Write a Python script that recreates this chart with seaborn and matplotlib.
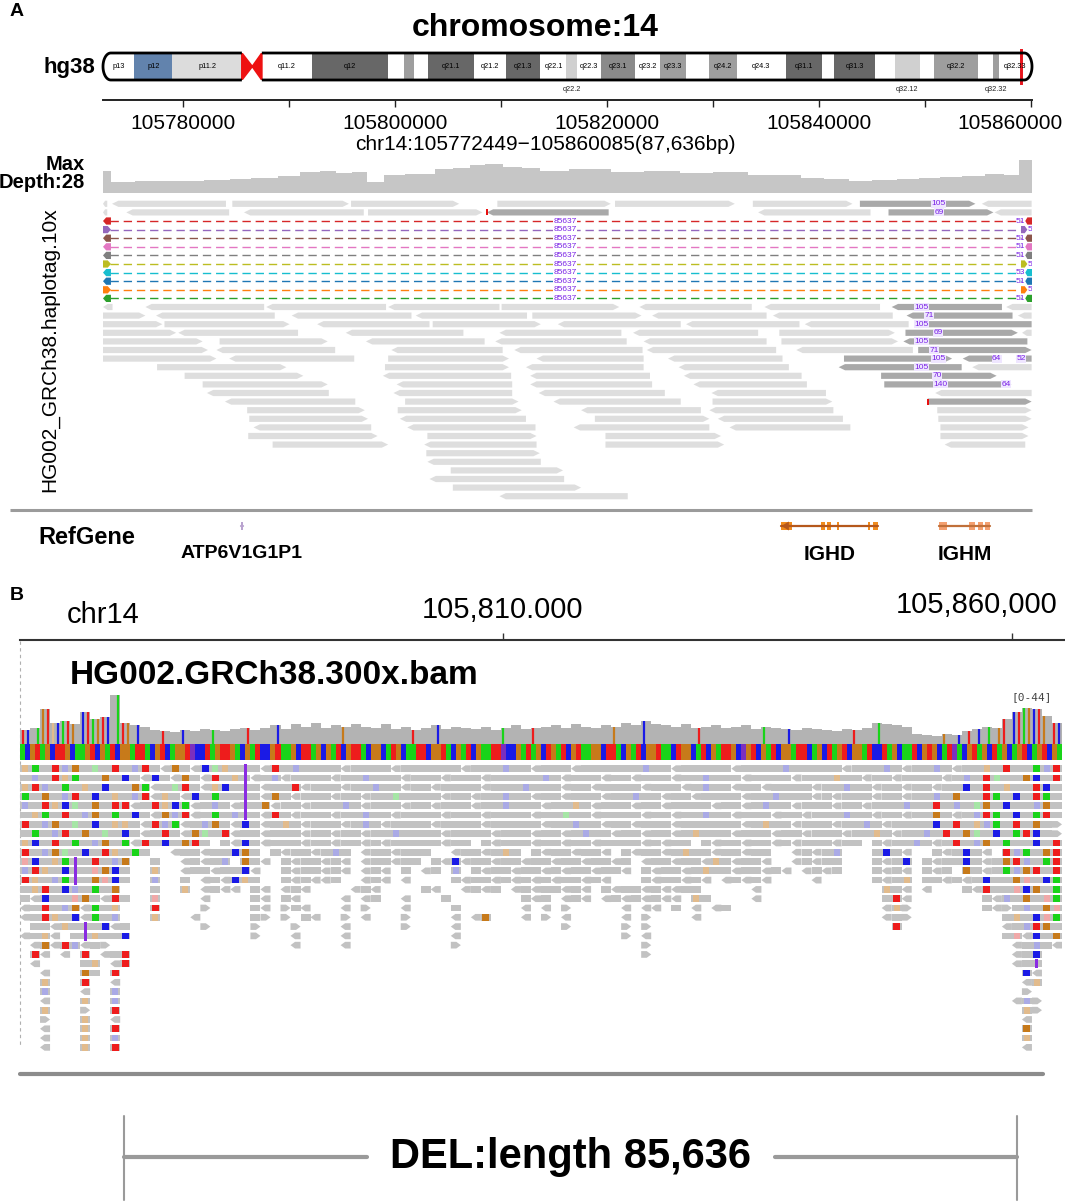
import numpy as np
import matplotlib
matplotlib.use("Agg")
import matplotlib.pyplot as plt
import seaborn as sns
from matplotlib import font_manager
from matplotlib.patches import Polygon, Rectangle
from matplotlib.collections import PatchCollection
from matplotlib.colors import ListedColormap

sns.set_theme(style="white")


def pick_font(names):
    for name in names:
        try:
            font_manager.findfont(name, fallback_to_default=False)
            return name
        except ValueError:
            continue
    return "DejaVu Sans"


BASE_FONT = pick_font(["Liberation Sans", "Arial"])
NARROW_FONT = pick_font(["Liberation Sans Narrow", BASE_FONT])
plt.rcParams["font.family"] = [BASE_FONT, "DejaVu Sans"]
plt.rcParams["text.color"] = "black"

# ---------------- data: panel A ----------------
region_start = 105772449
region_end = 105860085
chr_len_mb = 107.04

band_names = ["p13", "p12", "p11.2", "p11.1", "q11.1", "q11.2", "q12", "q13.1", "q13.2", "q13.3",
              "q21.1", "q21.2", "q21.3", "q22.1", "q22.2", "q22.3", "q23.1", "q23.2", "q23.3",
              "q24.1", "q24.2", "q24.3", "q31.1", "q31.2", "q31.3", "q32.11", "q32.12", "q32.13",
              "q32.2", "q32.31", "q32.32", "q32.33"]
band_starts = [0.0, 3.6, 8.0, 16.0, 17.2, 18.3, 24.1, 32.8, 34.7, 35.8, 37.4, 42.7, 46.4, 50.4,
               53.4, 54.6, 57.4, 61.3, 64.2, 67.2, 69.8, 73.0, 78.7, 82.8, 84.2, 89.0, 91.2, 94.1,
               95.7, 100.8, 102.5, 103.2]
band_ends = band_starts[1:] + [chr_len_mb]
band_stains = ["gneg", "stalk", "gvar", "acen", "acen", "gneg", "gpos100", "gneg", "gpos50", "gneg",
               "gpos100", "gneg", "gpos100", "gneg", "gpos25", "gneg", "gpos75", "gneg", "gpos50",
               "gneg", "gpos50", "gneg", "gpos100", "gneg", "gpos100", "gneg", "gpos25", "gneg",
               "gpos50", "gneg", "gpos50", "gneg"]
inner_labels = ["p13", "p12", "p11.2", "q11.2", "q12", "q21.1", "q21.2", "q21.3", "q22.1", "q22.3",
                "q23.1", "q23.2", "q23.3", "q24.2", "q24.3", "q31.1", "q31.3", "q32.2", "q32.33"]
below_labels = ["q22.2", "q32.12", "q32.32"]

ruler_a_ticks = [105780000, 105790000, 105800000, 105810000, 105820000,
                 105830000, 105840000, 105850000, 105860000]
ruler_a_labels = [105780000, 105800000, 105820000, 105840000, 105860000]

# coverage (kb from region start, depth)
a_cov_kb = [0, 0.8, 3, 6, 9.5, 12, 14, 16.5, 18.6, 20.5, 22, 23.5, 24.9, 26.5, 28.5, 31.3, 33,
            34.6, 36, 37.7, 39.5, 41.2, 44, 47.9, 51, 54.4, 57.5, 60.8, 63, 65.8, 68, 70.4, 72.5,
            74.9, 77, 79, 81, 83.2, 85, 86.4]
a_cov_depth = [19, 9, 10, 10.5, 11, 12, 13, 14.5, 18, 18.5, 17, 17.5, 9, 15, 16.5, 20, 21, 24, 25,
               22, 21, 19, 20, 18, 18.5, 17, 17.5, 15, 15.5, 13, 12, 10, 11, 12, 13, 14, 14.5, 16,
               15.5, 28]
a_max_depth = 28

# reads: (row, start kb, end kb, strand, shade L=light D=split/dark)
a_reads = [
    (0, 0.0, 0.4, "-", "L"), (0, 0.85, 11.6, "-", "L"), (0, 12.2, 23.2, "+", "L"),
    (0, 23.4, 33.6, "+", "L"), (0, 37.2, 47.9, "+", "L"), (0, 48.3, 59.6, "+", "L"),
    (0, 61.3, 70.7, "+", "L"), (0, 71.4, 82.3, "+", "D"), (0, 82.9, 87.6, "-", "L"),
    (1, 0.0, 0.4, "-", "L"), (1, 2.2, 11.9, "-", "L"), (1, 13.3, 24.6, "-", "L"),
    (1, 25.0, 35.8, "+", "L"), (1, 36.2, 47.7, "-", "D"), (1, 61.8, 72.4, "-", "L"),
    (1, 74.1, 84.0, "+", "D"), (1, 84.1, 87.6, "-", "L"),
    (12, 0.0, 0.9, "-", "L"), (12, 4.0, 15.2, "-", "L"), (12, 15.4, 26.7, "-", "L"),
    (12, 26.9, 37.4, "-", "L"), (12, 37.6, 48.7, "+", "L"), (12, 50.6, 61.2, "-", "L"),
    (12, 62.4, 73.3, "-", "L"), (12, 74.4, 84.8, "-", "D"), (12, 85.2, 87.6, "-", "L"),
    (13, 0.0, 4.0, "+", "L"), (13, 5.0, 16.2, "-", "L"), (13, 17.8, 29.1, "-", "L"),
    (13, 29.5, 40.0, "-", "L"), (13, 40.5, 50.8, "+", "L"), (13, 51.8, 62.6, "-", "L"),
    (13, 63.2, 74.5, "-", "L"), (13, 75.8, 85.8, "-", "D"), (13, 86.3, 87.6, "-", "L"),
    (14, 0.0, 5.6, "+", "L"), (14, 5.8, 17.6, "+", "L"), (14, 20.2, 30.8, "-", "L"),
    (14, 31.1, 41.3, "+", "L"), (14, 42.9, 54.5, "-", "L"), (14, 55.0, 65.7, "-", "L"),
    (14, 66.2, 76.0, "-", "L"), (14, 76.6, 87.6, "-", "D"),
    (15, 0.0, 6.9, "+", "L"), (15, 7.1, 18.4, "-", "L"), (15, 22.9, 34.0, "-", "L"),
    (15, 37.4, 48.9, "-", "L"), (15, 50.0, 61.8, "-", "L"), (15, 63.8, 74.7, "+", "L"),
    (15, 75.7, 86.3, "+", "D"), (15, 86.7, 87.6, "-", "L"),
    (16, 0.0, 9.4, "+", "L"), (16, 11.0, 21.2, "+", "L"), (16, 24.8, 36.0, "-", "L"),
    (16, 37.0, 49.4, "-", "L"), (16, 51.0, 62.6, "-", "L"), (16, 64.0, 75.0, "+", "L"),
    (16, 75.5, 87.2, "-", "D"),
    (17, 0.0, 9.9, "+", "L"), (17, 10.7, 21.9, "-", "L"), (17, 27.2, 37.7, "-", "L"),
    (17, 38.8, 50.9, "-", "L"), (17, 51.3, 63.5, "-", "L"), (17, 65.4, 76.4, "-", "L"),
    (17, 76.9, 87.6, "+", "D"),
    (18, 0.0, 10.7, "+", "L"), (18, 11.9, 23.7, "-", "L"), (18, 26.9, 38.3, "+", "L"),
    (18, 40.9, 51.0, "-", "L"), (18, 53.3, 64.1, "-", "L"), (18, 69.9, 80.1, "+", "D"),
    (18, 81.1, 84.8, "-", "D"), (18, 86.1, 87.6, "-", "D"),
    (19, 5.1, 17.3, "+", "L"), (19, 26.6, 38.3, "+", "L"), (19, 39.9, 51.0, "-", "L"),
    (19, 54.3, 64.7, "-", "L"), (19, 69.4, 81.0, "-", "D"), (19, 82.0, 87.6, "-", "L"),
    (20, 7.7, 18.9, "+", "L"), (20, 26.4, 38.5, "-", "L"), (20, 40.3, 51.6, "-", "L"),
    (20, 54.8, 65.9, "-", "L"), (20, 73.4, 84.3, "+", "D"),
    (21, 9.4, 21.2, "+", "L"), (21, 27.7, 38.6, "-", "L"), (21, 40.3, 51.8, "-", "L"),
    (21, 55.7, 66.4, "-", "L"), (21, 73.7, 85.7, "+", "D"),
    (22, 9.8, 21.3, "-", "L"), (22, 27.4, 38.6, "-", "L"), (22, 41.1, 53.0, "-", "L"),
    (22, 57.4, 68.2, "-", "L"), (22, 78.5, 87.6, "-", "L"),
    (23, 11.5, 23.8, "-", "L"), (23, 28.5, 39.2, "+", "L"), (23, 42.5, 54.5, "-", "L"),
    (23, 57.5, 68.8, "+", "L"), (23, 77.8, 87.6, "+", "D"),
    (24, 13.6, 24.7, "+", "L"), (24, 27.8, 39.5, "+", "L"), (24, 45.1, 56.4, "-", "L"),
    (24, 57.2, 68.9, "-", "L"), (24, 78.7, 87.6, "+", "L"),
    (25, 13.8, 25.0, "+", "L"), (25, 28.0, 39.9, "-", "L"), (25, 46.4, 57.2, "+", "L"),
    (25, 58.0, 69.8, "-", "L"), (25, 78.8, 87.6, "+", "L"),
    (26, 14.2, 25.3, "-", "L"), (26, 28.7, 40.8, "-", "L"), (26, 44.4, 57.2, "-", "L"),
    (26, 59.1, 70.5, "-", "L"), (26, 79.0, 87.3, "+", "L"),
    (27, 13.7, 25.9, "+", "L"), (27, 30.6, 40.9, "+", "L"), (27, 47.4, 58.3, "+", "L"),
    (27, 79.0, 87.3, "+", "L"),
    (28, 16.0, 26.9, "+", "L"), (28, 30.3, 40.9, "-", "L"), (28, 47.4, 58.6, "+", "L"),
    (28, 79.4, 87.0, "-", "L"),
    (29, 30.5, 41.2, "+", "L"), (30, 30.6, 41.3, "-", "L"), (31, 32.8, 43.4, "+", "L"),
    (32, 30.8, 43.5, "-", "L"), (33, 33.0, 45.1, "+", "L"), (34, 37.4, 49.5, "-", "L"),
]
a_read_labels = [(0, 78.8, "105"), (1, 78.9, "69"), (12, 77.2, "105"), (13, 77.9, "71"),
                 (14, 77.2, "105"), (15, 78.8, "69"), (16, 77.2, "105"), (17, 78.4, "71"),
                 (18, 78.8, "105"), (18, 84.3, "64"), (18, 86.6, "52"), (19, 77.2, "105"),
                 (20, 78.7, "70"), (21, 79.0, "140"), (21, 85.2, "64")]
a_red_tips = [(1, 36.2), (23, 77.8)]

# split reads spanning the deletion (rows 2..11)
split_colors = ["#d62728", "#9467bd", "#8c564b", "#e377c2", "#7f7f7f",
                "#bcbd22", "#17becf", "#1f77b4", "#ff7f0e", "#2ca02c"]
split_strands = ["-", "+", "-", "-", "-", "+", "-", "-", "+", "-"]
split_end_labels = ["51", "51", "51", "51", "51", "51", "53", "51", "51", "51"]
split_gap = 85637
split_label_kb = 43.6

gene_names = ["ATP6V1G1P1", "IGHD", "IGHM"]
gene_starts = [13.0, 64.0, 78.9]
gene_ends = [13.2, 73.1, 83.7]
gene_exons = [[(13.0, 13.2)],
              [(64.0, 65.0), (67.7, 68.1), (68.3, 68.7), (69.2, 69.4), (72.2, 72.4), (72.6, 73.1)],
              [(78.9, 79.6), (81.7, 82.3), (82.5, 83.0), (83.2, 83.7)]]
gene_line_colors = ["#b9a3cf", "#b5581c", "#c0703a"]
gene_exon_colors = ["#b9a3cf", "#f08c1e", "#f4a070"]

# ---------------- data: panel B ----------------
b_tick_positions = [105810000, 105860000]
b_tick_labels = ["105,810.000", "105,860,000"]
b_view = (105762555, 105865206)
b_cov_range = 44

b_cov = [12, 14, 30, 18, 20, 17, 28, 22, 23, 42, 18, 16, 15,
         12, 11, 10, 12, 11, 13, 12, 11, 13, 14, 12,
         14, 16, 13, 17, 15, 18, 14, 16, 15, 17,
         15, 14, 17, 13, 15, 12, 14, 16, 13, 15,
         14, 13, 15, 12, 14, 16, 13, 14, 15, 16,
         14, 17, 15, 14, 16, 15, 18, 16, 20, 17,
         16, 15, 17, 14, 15, 16, 14, 15, 16, 13,
         15, 14, 13, 12, 14, 13, 12, 11, 13, 12,
         14, 18, 17, 16, 15, 9, 8, 7, 9, 8,
         11, 13, 15, 14,
         22, 28, 31, 30, 24, 18]
b_cov_alt = ("TC.AGTgCAT" "G.CTAGTC.A" "TG.C....T." "..C.....A." ".....T...." ".C........"
             "....G....." "........T." "...C......" "......A..." "..T......." "........G."
             "....C....." ".....T...." "........A." "...C......" "......T..." ".A........"
             "....G..C.T" ".C.A.GT.CT" "AGCTG.TC")
b_ref_seq = ("ACGTAGCTTG" "CAAGTCGATC" "GGATTACGTC" "AGGTNCCTAG" "TTGACGATCC" "GTAAGCTTAG"
             "CGATCGTTAC" "GGCATGCAAT" "TCGGTACGAT" "CGAATTNCCG" "ATAGCTGATC" "GTAAGGCTTA"
             "CGATCGGTAA" "CTGGCATCGA" "TTGCNGTCGA" "TCGGATTCAG" "CTAGTCGGAT" "CCTAGCAATC"
             "GTGCATNACG" "TAGCTAGCAG" "TCAGTCGA")

# pileup rows: "startcol:cells", '=' read, '<'/'>' read end, letters mismatches
# (upper = strong, lower = faint), 'I' insertion, '.' empty
b_rows = [
    "0:gA=TcG=a=T 10:=cT=<G=<Ca 20:g=I=<T=c== 30:==<====<== 40:====<===c= 50:=<===<==== 60:==c==<==== 70:=<====c=== 80:==<===c=<= 90:=c=<==g=T= 100:=AcT",
    "0:=c=TgA==G= 10:C=<C=<G=<T 20:=gI<=c<=== 30:=<==c===<= 40:==<===<=== 50:==c=<===<= 60:=<===<==c= 70:==<====<== 80:=g==<==<== 90:==<=c=Ta== 100:GC=T",
    "0:gTc=A=g=C= 10:=GA<=aT=<g 20:C=I=<==T<= 30:==<==c==<= 40:=<====<=== 50:c===<==<== 60:==<===<=c= 70:=<==<====< 80:==c==<==<= 90:=<==C=T=g= 100:=TC=",
    "0:A=G=cT=C=g 10:=cT<g=<C=A 20:==I=<G=<== 30:=<==<==a== 40:==<==<==c= 50:=<==<===<= 60:=c==<==<== 70:==<==c===< 80:=<===<==<= 90:=c=G==TA=C 100:=TA=",
    "0:c=TgCa=G=T 10:T<=TgCA<=c 20:=<I=G<==<= 30:==c=<===<= 40:=<===<==c= 50:==<==g=<== 60:=<==<====< 70:==<=c==<== 80:=<==<===c= 90:=T=c=aG=C= 100:=cG=",
    "0:=gA=T=cG=A 10:=C=<GcT<=A 20:=cI=<T=<== 30:=<==c==<== 40:==<===<=== 50:=<==a==<== 60:==<==<==c= 70:=<===<==<= 80:==c==<==<= 90:=G=<=cTA=C 100:=AT=",
    "0:T=cG=a=C=g 10:g=<TcA<=cG 20:=<C=<=g=<= 30:==<=c=<=== 40:=<====<=== 50:==<==c==<= 60:=<===<==== 70:==<=g==<== 80:=<==c=<=== 90:=C=T=gcA=T 100:=G=>",
    "0:=A=cT=G=a= 10:C=<=T=<Ga= 20:T<==<===<= 30:=<==<==c== 40:==<====<== 50:=<==<=c==< 60:==<==<=g== 70:=<===<==<= 80:==<==g=<== 90:c=T=Ga=C=A 100:TC=>",
    "0:gC=T=A=cG= 10:A<T=C=GT= 20:=<C=<===<= 30:=<==<=<=== 40:==<== 46:=<== 50:=<==<==<== 60:==<=<== 68:=< 70:==<==<=<== 80:=<== 85:=<==c 90:=<=T=cG=A= 100:=C=T",
    "0:T=cGa=C=Tg=A= 15:<==<==CG= 25:=<==<=c= 34:<==<== 40:= 43:<==<=g= 51:=<==<==< 60:=<==<=g==<==<== 77:<=<=c 85:=C=< 91:=<=C=< 98:TcA=GT",
    "0:tC=gAI=T=cG 13:= 16:<=<=c 22:G=< 26:=<==<=< 34:<==<== 41:=< 43:C<==<==<= 52:=<==<==< 60:= 62:<==<==<g=<==< 77:<=<== 85:=<=C 90:=<==C=<= 98:GTc=AT",
    "0:cTg=CI=tGC= 13:g 16:<==<= 21:=C< 26:=<==<=< 34:<=< 38:= 40:<= 43:c 45:=<==<==< 53:=<==<== 60:< 62:=<==<=g 69:==<==<=< 78:<=<= 85:=<=< 90:=<= 94:G=<= 98:AcGT=T",
    "0:Tg=cAI=GtC= 13:c 16:= 18:<=< 21:C 22:g= 26:=<=< 30:<= 34:<=< 38:< 43:= 44:<==< 48:=<=<=<== 56:<=< 62:=<==<=< 70:<=<=< 79:< 85:=<=g 90:==<= 94:<=C= 98:=Gt=CA",
    "0:=gT=Cc=A=G 13:= 16:g 18:<=< 21:< 23:=< 26:<=< 33:<=< 40:=< 44:<=< 47:= 49:<=<== 54:<= 56:< 58:=<==<=< 65:<= 67:= 73:< 86:g=< 90:< 94:=<T= 98:=tCG=A",
    "0:=<C==tG=<T= 13:t 18:< 23:=< 26:=< 32:< 34:<= 38:< 42:= 50:= 51:< 52:= 54:<= 56:< 58:<=< 61:=<=< 65:< 67:g= 73:< 86:=T< 96:=< 98:c=G=tA",
    "0:<=T=cG<A=g 13:T 18:> 23:=< 26:> 27:=< 32:< 34:> 38:< 43:= 50:< 52:< 54:> 60:< 62:<< 65:= 67:< 69:<= 86:<g> 96:=< 98:>=c=Gt",
    "0:<=Tg=C<A=c 13:g 17:< 23:=> 26:> 28:=< 32:> 34:< 38:> 43:< 45:<G 50:< 52:> 54:< 60:< 62:> 67:< 86:<=> 98:=g=CtA",
    "1:==<g=I=C<= 18:> 23:> 27:> 32:< 38:> 43:< 54:> 60:> 62:> 87:T 98:<=cTG=",
    "0:<=g<.=Ig==C 23:> 27:< 32:< 43:< 60:> 62:< 98:=t<C=G",
    "0:.<G<Tc<=> 27:< 32:< 43:> 62:> 98:.<=c=<",
    "1:T<.<.T.<=T 62:> 99:<=C",
    "1:<. 6:=g 9:<T 99:<=I",
    "2:< 6:G= 9:T 100:C<",
    "2:g 6:T 9:< 100:<g",
    "2:c 6:< 9:c 100:>",
    "2:< 6:g 9:c 99:<c>",
    "2:g 6:> 9:T 100:g>",
    "2:> 6:g 9:< 100:<",
    "2:< 6:g 9:T 100:G",
    "2:< 6:g 9:c 100:g",
    "2:< 6:g 9:T 100:<",
]
del_length = 85636

# ---------------- styles ----------------
STAIN_COLORS = {"gneg": "white", "gpos25": "#d0d0d0", "gpos50": "#9e9e9e", "gpos75": "#8a8a8a",
                "gpos100": "#676767", "gvar": "#dcdcdc", "stalk": "#6283ad"}
BASE_COLORS = {"A": "#19d419", "C": "#1a1ae6", "G": "#c77a1a", "T": "#ee1c1c", "N": "#7b2fbe",
               "a": "#a6e6a6", "c": "#aaaae6", "g": "#e2bb8c", "t": "#f0a8a8"}
READ_GRAY = "#c2c2c2"
A_SHADES = {"L": "#dedede", "D": "#a9a9a9"}
PURPLE = "#7a22e6"

W, H = 1065, 1202
fig = plt.figure(figsize=(W / 100, H / 100), dpi=100)
fig.patch.set_facecolor("white")


def px_axes(x0, y0, x1, y1):
    return fig.add_axes([x0 / W, 1 - y1 / H, (x1 - x0) / W, (y1 - y0) / H])


def add_read(ax, s, e, row, strand, color, h=0.36, tip=0.6):
    tip = min(tip, (e - s) * 0.5)
    if strand == "+":
        pts = [(s, row - h), (e - tip, row - h), (e, row), (e - tip, row + h), (s, row + h)]
    else:
        pts = [(s, row), (s + tip, row - h), (e, row - h), (e, row + h), (s + tip, row + h)]
    ax.add_patch(Polygon(pts, closed=True, fc=color, ec="none"))


# overlay for labels / separators
ov = fig.add_axes([0, 0, 1, 1])
ov.set_xlim(0, W)
ov.set_ylim(H, 0)
ov.axis("off")
ov.patch.set_alpha(0)

# ---------------- panel A: ideogram ----------------
ax = px_axes(103, 53, 1032, 80)
ax.set_xlim(0, chr_len_mb)
ax.set_ylim(0, 1)
ax.axis("off")
cen_start = band_starts[band_stains.index("acen")]
cen_end = band_ends[len(band_stains) - 1 - band_stains[::-1].index("acen")]
cen_mid = band_ends[band_stains.index("acen")]
r = 0.9
th_p = np.linspace(np.pi / 2, 3 * np.pi / 2, 40)
th_q = np.linspace(-np.pi / 2, np.pi / 2, 40)
p_path = [(cen_start, 1)] + [(r + r * np.cos(t), 0.5 + 0.5 * np.sin(t)) for t in th_p] + [(cen_start, 0)]
q_path = [(cen_end, 0)] + [(chr_len_mb - r + r * np.cos(t), 0.5 + 0.5 * np.sin(t)) for t in th_q] + [(cen_end, 1)]
clips = []
for path in (p_path, q_path):
    cp = Polygon(path, closed=True, fc="none", ec="none")
    ax.add_patch(cp)
    clips.append(cp)
for name, s, e, stain in zip(band_names, band_starts, band_ends, band_stains):
    if stain == "acen":
        continue
    rect = Rectangle((s, 0), e - s, 1, fc=STAIN_COLORS[stain], ec="none")
    ax.add_patch(rect)
    rect.set_clip_path(clips[0] if e <= cen_start + 1e-9 else clips[1])
    mid = (s + e) / 2
    if name in inner_labels:
        ax.text(mid, 0.5, name, ha="center", va="center", fontsize=5.3, color="black",
                family=NARROW_FONT, clip_on=False)
    elif name in below_labels:
        ax.text(mid, -0.35, name, ha="center", va="center", fontsize=5.3, color="#222222",
                family=NARROW_FONT, clip_on=False)
for path in (p_path, q_path):
    xs, ys = zip(*path)
    ax.plot(xs, ys, color="black", lw=2.0, solid_capstyle="butt", clip_on=False)
ax.add_patch(Polygon([(cen_start, 1), (cen_mid, 0.5), (cen_end, 1), (cen_end, 0),
                      (cen_mid, 0.5), (cen_start, 0)], closed=True, fc="#ee1111", ec="#ee1111",
                     lw=1.2))
ax.axvspan(region_start / 1e6, region_end / 1e6, ymin=-0.15, ymax=1.12, color="#e8141c",
           lw=1.4, clip_on=False)
ov.text(95, 67, "hg38", ha="right", va="center", fontsize=16, weight="bold")

# ruler
ax = px_axes(103, 100, 1032, 107)
ax.set_xlim(region_start, region_end)
ax.set_ylim(0, 1)
for side in ("left", "right", "bottom"):
    ax.spines[side].set_visible(False)
ax.spines["top"].set_linewidth(1.4)
ax.spines["top"].set_color("#222222")
ax.patch.set_alpha(0)
ax.set_xticks(ruler_a_ticks)
ax.tick_params(axis="x", top=True, bottom=False, labeltop=False, labelbottom=False,
               direction="in", length=5.2, width=1.0, color="#222222")
ax.set_yticks([])
for t in ruler_a_labels[:-1]:
    ax.text(t, -2.3, str(t), transform=ax.get_xaxis_transform(), ha="center", va="center",
            fontsize=15)
ax.text(1.033, -2.3, str(ruler_a_labels[-1]), transform=ax.transAxes, ha="right", va="center",
        fontsize=15)
span = region_end - region_start
ov.text(545, 145, f"chr14:{region_start}\u2212{region_end}({span:,}bp)", ha="center",
        va="center", fontsize=15)
ov.text(535, 28, "chromosome:14", ha="center", va="center", fontsize=23, weight="bold")
ov.text(10, 12, "A", ha="left", va="center", fontsize=14, weight="bold")

# coverage
ax = px_axes(103, 160, 1032, 193)
region_kb = span / 1000
xs = list(a_cov_kb) + [region_kb]
ys = list(a_cov_depth) + [a_cov_depth[-1]]
ax.fill_between(xs, 0, ys, step="post", color="#c6c6c6", lw=0)
ax.set_xlim(0, region_kb)
ax.set_ylim(0, a_max_depth)
ax.axis("off")
ov.text(85, 164, "Max", ha="right", va="center", fontsize=14.5, weight="bold")
ov.text(85, 182, f"Depth:{a_max_depth}", ha="right", va="center", fontsize=14.5, weight="bold")

# reads
ax = px_axes(103, 199.5, 1032, 500.5)
ax.set_xlim(0, region_kb)
ax.set_ylim(34.5, -0.5)
ax.axis("off")
for row, s, e, strand, shade in a_reads:
    add_read(ax, s, e, row, strand, A_SHADES[shade])
for row, kb in a_red_tips:
    ax.add_patch(Rectangle((kb - 0.1, row - 0.36), 0.25, 0.72, fc="#e81010", ec="none"))
for row, kb, txt in a_read_labels:
    ax.text(kb, row, txt, ha="center", va="center", fontsize=6, color=PURPLE, family=NARROW_FONT,
            bbox=dict(boxstyle="square,pad=0.05", fc="#efe6ff", ec="none"))
for i, (c, st, lab) in enumerate(zip(split_colors, split_strands, split_end_labels)):
    row = 2 + i
    ax.plot([0.7, 86.6], [row, row], color=c, lw=1.0, ls=(0, (6, 3.5)))
    add_read(ax, 0.0, 0.75, row, st, c, h=0.42, tip=0.3)
    if st == "+":
        add_read(ax, 86.6, 87.2, row, "+", c, h=0.42, tip=0.25)
        ax.text(87.25, row, lab, ha="left", va="center", fontsize=6, color=PURPLE,
                family=NARROW_FONT, clip_on=True)
    else:
        add_read(ax, 87.0, region_kb, row, "-", c, h=0.42, tip=0.2)
        ax.text(86.95, row, lab, ha="right", va="center", fontsize=6, color=PURPLE,
                family=NARROW_FONT)
    ax.text(split_label_kb, row, str(split_gap), ha="center", va="center", fontsize=6,
            color=PURPLE, family=NARROW_FONT,
            bbox=dict(boxstyle="square,pad=0.02", fc="white", ec="none"))
ov.text(50, 350, "HG002_GRCh38.haplotag.10x", rotation=90, ha="center", va="center", fontsize=15)

# gene track
ov.plot([10, 1032], [510, 510], color="#9b9b9b", lw=2.2, solid_capstyle="butt")
ax = px_axes(103, 515, 1032, 570)
ax.set_xlim(0, region_kb)
ax.set_ylim(55, 0)
ax.axis("off")
for name, s, e, exons, lc, ec in zip(gene_names, gene_starts, gene_ends, gene_exons,
                                     gene_line_colors, gene_exon_colors):
    ax.plot([s, e], [11, 11], color=lc, lw=1.6)
    for xs_, xe_ in exons:
        ax.add_patch(Rectangle((xs_, 7), xe_ - xs_, 8, fc=ec, ec="none"))
    ax.text((s + e) / 2, 39, name, ha="center", va="center", fontsize=15 if len(name) < 6 else 14,
            weight="bold")
ax.add_patch(Polygon([(gene_starts[1], 11), (gene_starts[1] + 0.7, 6.5),
                      (gene_starts[1] + 0.7, 15.5)], closed=True, fc=gene_line_colors[1], ec="none"))
ov.text(38, 538, "RefGene", ha="left", va="center", fontsize=17, weight="bold")

# ---------------- panel B ----------------
ov.text(10, 596, "B", ha="left", va="center", fontsize=14, weight="bold")
ax = px_axes(20, 600, 1065, 640)
ax.set_xlim(*b_view)
ax.set_ylim(0, 1)
ax.patch.set_alpha(0)
for side in ("left", "right", "top"):
    ax.spines[side].set_visible(False)
ax.spines["bottom"].set_linewidth(1.5)
ax.spines["bottom"].set_color("#333333")
ax.set_xticks(b_tick_positions)
ax.set_xticklabels([])
ax.set_yticks([])
ax.tick_params(axis="x", bottom=True, direction="in", length=5, width=1.0, color="#333333")
ax.text(b_tick_positions[0], 0.75, b_tick_labels[0], ha="center", va="center", fontsize=21,
        transform=ax.get_xaxis_transform())
ax.text(0.993, 0.875, b_tick_labels[1], ha="right", va="center", fontsize=21,
        transform=ax.transAxes)
ax.text(0.08, 0.625, "chr14", ha="center", va="center", fontsize=21, transform=ax.transAxes)

ov.plot([20, 20], [641, 1045], color="#b0b0b0", lw=0.8, ls=(0, (3, 3)))
ov.text(70, 676, "HG002.GRCh38.300x.bam", ha="left", va="center", fontsize=24, weight="bold")
ov.text(1052, 697, f"[0-{b_cov_range}]", ha="right", va="center", fontsize=8, color="#444444",
        family="DejaVu Sans Mono")

ncol = len(b_cov)
ax = px_axes(20, 690, 1062, 744)
sns.barplot(x=np.arange(ncol) + 0.5, y=b_cov, native_scale=True, width=1.0, color="#b3b3b3",
            saturation=1, linewidth=0, errorbar=None, ax=ax)
for i, ch in enumerate(b_cov_alt):
    if ch in BASE_COLORS:
        x = (i + 0.5) / 2
        ax.plot([x, x], [0, b_cov[int(x)]], color=BASE_COLORS[ch], lw=1.6, solid_capstyle="butt")
ax.set_xlim(0, ncol)
ax.set_ylim(0, b_cov_range * 1.06)
ax.axis("off")

# reference base stripe
ax = px_axes(20, 744, 1062, 760)
bases = "ACGTN"
codes = np.array([[bases.index(ch) for ch in b_ref_seq]])
sns.heatmap(codes, cmap=ListedColormap([BASE_COLORS[b] for b in bases]), vmin=-0.5,
            vmax=len(bases) - 0.5, cbar=False, xticklabels=False, yticklabels=False, ax=ax)
ax.axis("off")

# pileup
ax = px_axes(20, 764, 1062, 1052)
ax.set_xlim(0, ncol)
ax.set_ylim(len(b_rows) - 0.5, -0.5)
ax.axis("off")
h = 0.36
gray_p, col_p, col_c = [], [], []
for r_i, row in enumerate(b_rows):
    for seg in row.split():
        start, cells = seg.split(":", 1)
        for j, ch in enumerate(cells):
            c = int(start) + j
            if ch == ".":
                continue
            if ch == "<":
                gray_p.append(Polygon([(c, r_i), (c + 0.45, r_i - h), (c + 1, r_i - h),
                                       (c + 1, r_i + h), (c + 0.45, r_i + h)], closed=True))
            elif ch == ">":
                gray_p.append(Polygon([(c, r_i - h), (c + 0.55, r_i - h), (c + 1, r_i),
                                       (c + 0.55, r_i + h), (c, r_i + h)], closed=True))
            elif ch == "I":
                gray_p.append(Rectangle((c, r_i - h), 1, 2 * h))
                col_p.append(Rectangle((c + 0.35, r_i - 0.5), 0.3, 1.0))
                col_c.append("#8a2be2")
            else:
                gray_p.append(Rectangle((c, r_i - h), 1, 2 * h))
                if ch in BASE_COLORS:
                    wdt = 0.7 if ch.isupper() else 0.6
                    col_p.append(Rectangle((c + (1 - wdt) / 2, r_i - h), wdt, 2 * h))
                    col_c.append(BASE_COLORS[ch])
ax.add_collection(PatchCollection(gray_p, facecolor=READ_GRAY, edgecolor="none", linewidth=0))
ax.add_collection(PatchCollection(col_p, facecolor=col_c, edgecolor="none", linewidth=0))

# DEL bracket
ov.plot([20, 1043], [1074, 1074], color="#8c8c8c", lw=3.0, solid_capstyle="round")
ov.plot([124, 124], [1116, 1200], color="#9a9a9a", lw=1.5)
ov.plot([1017, 1017], [1116, 1200], color="#9a9a9a", lw=1.5)
ov.plot([124, 367], [1157, 1157], color="#9a9a9a", lw=3.0)
ov.plot([775, 1017], [1157, 1157], color="#9a9a9a", lw=3.0)
ov.text(570, 1157, f"DEL:length {del_length:,}", ha="center", va="center", fontsize=30,
        weight="bold")

fig.savefig("out.png", dpi=100, facecolor="white")
